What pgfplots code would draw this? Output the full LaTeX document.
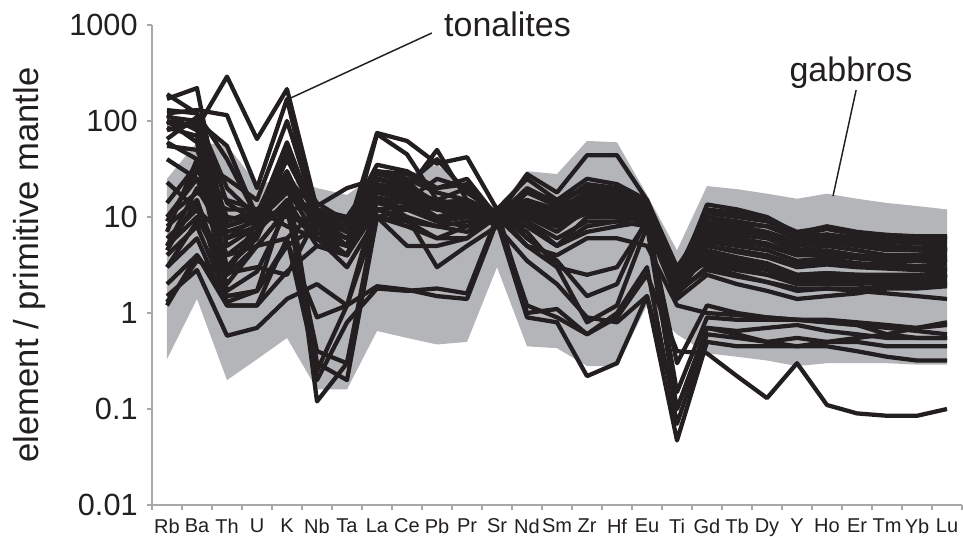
\documentclass[border=0pt]{standalone}
\usepackage{pgfplots}
\pgfplotsset{compat=1.18}
\usepackage{pgfplotstable}
\usepackage{fontspec}
\setmainfont{Liberation Sans}
\definecolor{axisgray}{RGB}{168,168,171}
\definecolor{fieldgray}{RGB}{180,181,185}
\definecolor{linecol}{RGB}{35,31,32}

% each row = one tonalite sample; columns = elements in plotting order
\pgfplotstableread{
Rb Ba Th U K Nb Ta La Ce Pb Pr Sr Nd Sm Zr Hf Eu Ti Gd Tb Dy Y Ho Er Tm Yb Lu
100 85 290 65 215 12 9 25 20 14 15 10 12 9 14 13 11 2.5 9 8.5 8 6 6.5 5.5 5 4.8 4.8
170 220 6 8 40 10 7 30 25 18 15 11 14 11 18 17 13 2.2 13.5 12 10 6.8 8 7 6.5 6.3 6.3
120 130 115 20 170 8 6 20 18 12 13 9 10 8 12 12 10 2.0 8 7 6.5 5 5.5 5 4.5 4.5 4.3
110 100 55 10 60 9 7 75 62 36 42 12 25 15 20 18 14 2.8 7 6.5 6 4.5 5 4.5 4 4 4
95 90 5 8 45 9 5 73 45 15 20 10 28 18 44 44 15 3.0 6 5.5 5 4 4 3.7 3.5 3.5 3.5
85 70 3 6 30 7 4 22 19 50 15 11 12 9 15 14 12 2.2 5.5 5 4.5 3.5 3.7 3.3 3.2 3.1 3.2
65 110 20 10 25 8 6 18 16 10 12 10 10 7 12 11 10 1.8 5 4.3 3.8 3 3.2 3 2.9 2.8 2.8
55 50 10 9 20 6 5 15 14 12 10 9 8 5 10 10 9 1.5 4.5 3.8 3.3 2.5 2.6 2.5 2.5 2.5 2.6
40 25 4 7 15 5 4 30 28 20 22 9 18 13 22 20 13 2.5 4 3.3 2.8 2.2 2.3 2.2 2.2 2.3 2.5
23 12 6 10 12 13 20 25 22 14 15 10 14 10 16 15 11 2.0 3.5 3 2.5 2 2 2 2.1 2.2 2.5
14 35 8 11 50 10 8 20 15 25 20 10 11 8 13 12 10 1.6 3 2.5 2.1 1.8 1.8 1.8 1.9 1.9 2
10 18 12 12 20 9 6 12 10 8 9 9 9 6 9 9 8 1.4 2.5 2 1.7 1.4 1.5 1.6 1.8 1.8 1.9
8 15 2 5 12 0.4 0.3 10 9 6 8 10 7 3 2.5 3 9 0.3 1.2 1 0.9 0.85 0.8 0.75 0.7 0.65 0.6
6 12 3 7 25 0.3 0.2 10 8 6 6 12 6 3.5 1.5 2 10 0.15 0.9 0.85 0.85 0.85 0.8 0.75 0.6 0.55 0.55
5 10 2.5 9 30 0.12 0.3 12 9 8 7 11 5 3 0.8 1.2 8 0.1 0.7 0.65 0.7 0.75 0.65 0.6 0.55 0.55 0.55
4 8 1.5 1.7 15 0.2 0.8 1.8 1.7 1.8 1.6 10 1.2 0.9 0.6 1.0 3 0.07 0.6 0.55 0.5 0.55 0.5 0.5 0.45 0.45 0.45
3 6 1.2 1.2 6 0.25 1.2 1.9 1.75 1.5 1.4 9 0.9 0.8 0.22 0.3 1.5 0.047 0.5 0.45 0.45 0.45 0.45 0.4 0.35 0.32 0.32
1.5 2.8 0.58 0.7 1.4 2.0 1.2 10 12 9 8 12 1.0 1.1 0.6 0.9 2.5 0.4 0.38 0.22 0.13 0.30 0.11 0.09 0.085 0.085 0.10
1.2 4 1.5 1.7 5.5 0.9 1.2 15 10 3 5 8 3.5 2 0.9 0.8 1.5 0.1 0.7 0.6 0.5 0.45 0.5 0.55 0.6 0.7 0.75
2 4 1.2 1.2 2.7 5 4 12 13 9 10 10 8 5 8 9 10 2.3 6 5.5 5 4 4.2 3.8 3.6 3.5 3.4
1.3 3.5 2.6 3 2.5 10 7 15 12 10 10 9 10 8 12 12 11 2.8 3.2 2.8 2.5 2.2 2.2 2.1 2 2 2.0
130 120 14 9 18 11 8 22 18 15 13 11 12 9 14 13 11 2.0 7.5 7 6.5 5 5.5 5 4.6 4.5 4.4
115 80 8 10 40 14 9 35 30 20 25 10 20 14 20 19 14 2.6 9 8 7 5.5 6 5.3 5 4.7 4.6
100 60 2.5 5 12 7 5 18 15 12 12 8 12 10 14 13 11 2.1 6.5 6 5.3 4.2 4.5 4 3.8 3.7 3.7
7 40 1.7 2.7 12 6 4 18 16 12 14 10 14 12 18 17 13 3.0 8.5 7.5 6.8 5.5 5.8 5 4.8 4.6 4.5
4.5 15 1.3 1.7 5 8 6 20 18 15 13 11 15 12 18 16 12 2.4 5 4.5 4 3.2 3.4 3.1 3 2.9 2.9
3 9 4 5 6 12 9 20 17 13 12 10 10 8 12 11 9 1.8 4.2 3.6 3.1 2.5 2.6 2.5 2.4 2.4 2.3
9 30 15 12 10 9 8 16 14 10 11 10 9 5 7 8 9 1.7 2.8 2.4 2.1 1.7 1.8 1.7 1.6 1.5 1.4
60 40 25 15 100 10 7 25 22 40 18 11 13 10 15 14 12 2.3 10 9 8 6.2 6.6 6 5.5 5.3 5.2
80 100 9 12 8 6 4 14 12 9 10 9 11 8 11 11 10 2.0 3.8 3.2 2.8 2.3 2.4 2.3 2.2 2.2 2.2
5 20 6 8 12 6 3 10 5 5 6 10 5 4 6 6 5 1.2 1.0 0.95 0.9 0.85 0.85 0.8 0.75 0.7 0.8
10 25 7 9 22 8 5 25 20 13 15 11 15 11 17 16 13 2.6 12 11 9.5 7 7.8 6.8 6.5 6.2 6.0
190 120 40 10 25 12 10 28 24 12 14 10 18 15 25 22 15 2.5 11 10 9 6.5 7.5 6.5 6 5.8 5.8
}\tonalites
\pgfplotstabletranspose\tonalitesT{\tonalites}

\begin{document}
\begin{tikzpicture}
\useasboundingbox (-114pt,-23.25pt) rectangle (608.25pt,378.75pt);
\begin{axis}[
  at={(0,0)}, anchor=south west,
  scale only axis, width=607.5pt, height=360pt,
  ymode=log, ymin=0.01, ymax=1000,
  xmin=-0.5, xmax=26.5,
  axis x line*=bottom, axis y line*=left,
  axis line style={draw=axisgray, line width=1.5pt, -},
  tick align=outside,
  major tick length=3.75pt, minor tick length=4pt,
  tick style={draw=axisgray, line width=1.2pt},
  major x tick style={draw=none},
  ytick={0.01,0.1,1,10,100,1000},
  yticklabels={0.01,0.1,1,10,100,1000},
  yminorticks=false,
  xtick={0,...,26},
  xticklabels={Rb,Ba,Th,U,K,Nb,Ta,La,Ce,Pb,Pr,Sr,Nd,Sm,Zr,Hf,Eu,Ti,Gd,Tb,Dy,Y,Ho,Er,Tm,Yb,Lu},
  minor xtick={-0.5,0.5,...,26.5},
  yticklabel style={font=\fontsize{23}{26}\selectfont, text=linecol, xshift=-3.5pt},
  xticklabel style={font=\fontsize{15}{17}\selectfont, text=linecol, yshift=-3pt},
  ylabel={element / primitive mantle},
  ylabel style={font=\fontsize{26}{30}\selectfont, text=linecol, at={(axis description cs:-0.1506,0.5)}, anchor=center},
  clip=true,
]
% gabbro field
\addplot[fill=fieldgray, draw=none] coordinates {
 (0,25) (1,60) (2,56) (3,22) (4,25) (5,20) (6,17) (7,28) (8,28) (9,35) (10,20) (11,12) (12,30) (13,28) (14,62) (15,60) (16,17) (17,4.5) (18,21) (19,19.5) (20,17.5) (21,15.5) (22,17.5) (23,15.5) (24,14) (25,13) (26,12)
 (26,0.29) (25,0.29) (24,0.30) (23,0.30) (22,0.30) (21,0.28) (20,0.32) (19,0.35) (18,0.38) (17,0.6) (16,1.2) (15,0.28) (14,0.28) (13,0.43) (12,0.45) (11,3.0) (10,0.5) (9,0.47) (8,0.55) (7,0.65) (6,0.16) (5,0.16) (4,0.55) (3,0.33) (2,0.2) (1,1.4) (0,0.33)
} --cycle;
% tonalite patterns
\pgfplotsinvokeforeach{1,...,33}{
  \addplot[linecol, line width=3.2pt, line join=round, mark=none] table[x expr=\coordindex, y index=#1] {\tonalitesT};
}
\end{axis}
% annotations
\begin{axis}[
  at={(0,0)}, anchor=south west,
  scale only axis, width=607.5pt, height=360pt,
  ymode=log, ymin=0.01, ymax=1000,
  xmin=-0.5, xmax=26.5, hide axis, clip=false,
]
\draw[linecol, line width=1.1pt] (axis cs:8.83,826) -- (axis cs:4.13,174);
\node[anchor=base west, inner sep=0pt, font=\fontsize{25.5}{30}\selectfont, text=linecol] at (axis cs:9.23,750) {tonalites};
\draw[linecol, line width=1.1pt] (axis cs:22.97,210) -- (axis cs:22.2,16.5);
\node[anchor=base, inner sep=0pt, font=\fontsize{25.5}{30}\selectfont, text=linecol] at (axis cs:22.8,255) {gabbros};
\end{axis}
\end{tikzpicture}
\end{document}
